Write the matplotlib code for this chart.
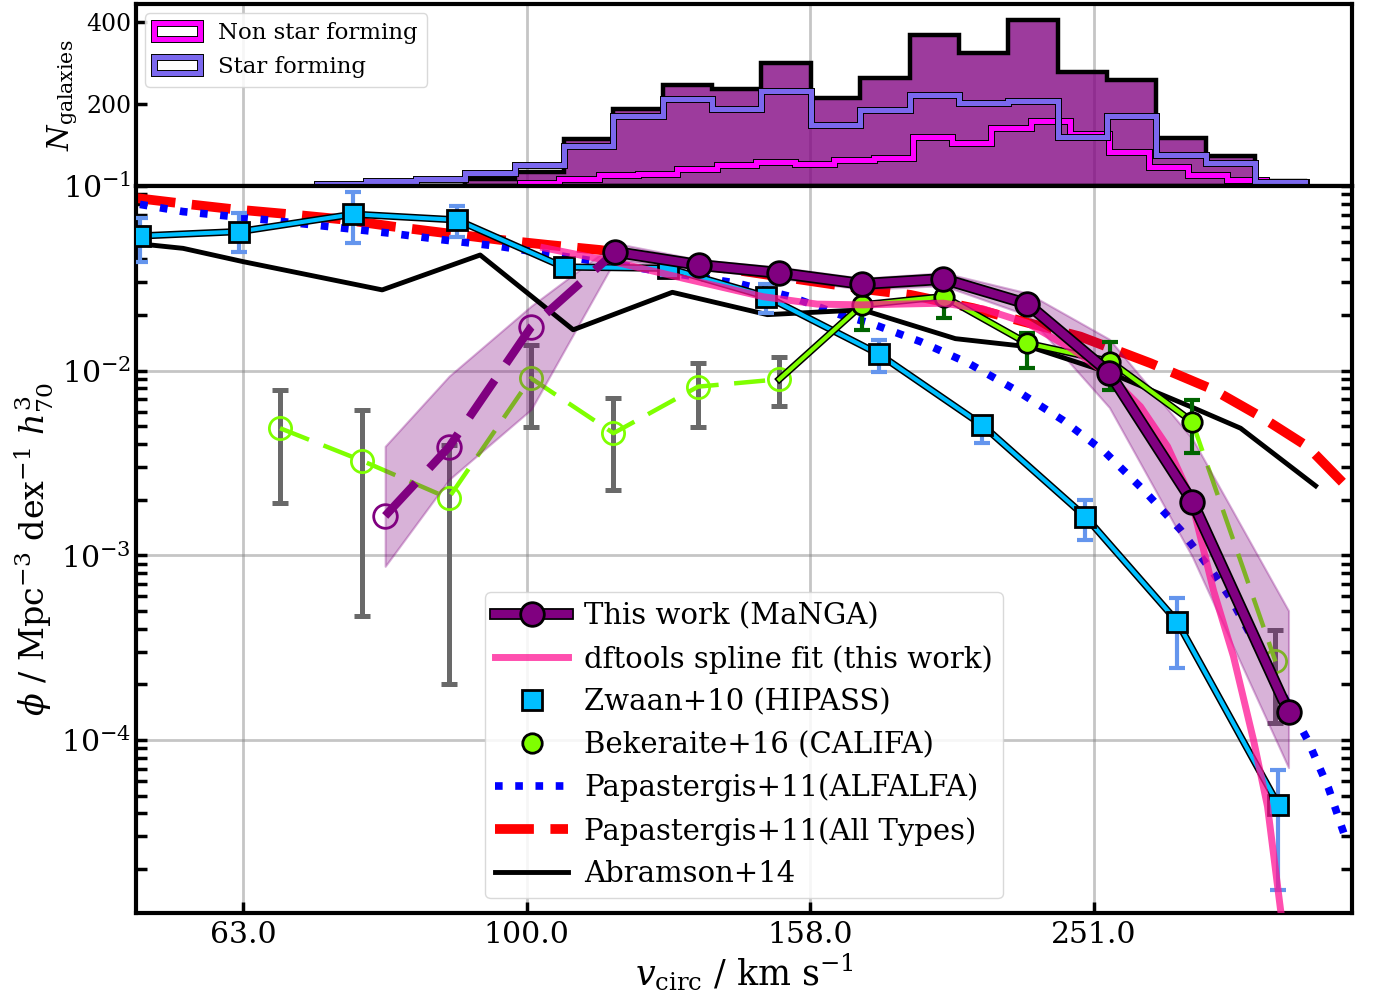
import matplotlib
matplotlib.use("Agg")
import matplotlib.pyplot as plt
import matplotlib.patheffects as pe
from matplotlib.legend_handler import HandlerTuple
import numpy as np

plt.rcParams["font.family"] = "DejaVu Serif"
plt.rcParams["mathtext.fontset"] = "dejavuserif"

# ---------------- top panel: galaxy counts per log10(v) bin ----------------
sf_edges = [1.8522, 1.8870, 1.9218, 1.9566, 1.9915, 2.0263, 2.0611, 2.0959,
            2.1307, 2.1655, 2.2004, 2.2352, 2.2700, 2.3048, 2.3396, 2.3744,
            2.4093, 2.4441, 2.4789, 2.5137, 2.5485]
all_counts = [0, 0, 0, 17, 35, 116, 188, 247, 238, 300, 216, 264, 369, 324,
              407, 278, 260, 118, 74, 12]
sf_counts = [6, 12, 17, 31, 51, 98, 170, 213, 189, 232, 148, 186, 223, 202,
             207, 119, 170, 76, 57, 9]
nsf_edges = [1.9954, 2.0231, 2.0508, 2.0785, 2.1062, 2.1339, 2.1615, 2.1892,
             2.2169, 2.2446, 2.2723, 2.3000, 2.3277, 2.3554, 2.3831, 2.4108,
             2.4385, 2.4662, 2.4938, 2.5215, 2.5492]
nsf_counts = [8, 16, 27, 30, 41, 52, 58, 55, 63, 69, 120, 106, 141, 159, 128,
              84, 47, 27, 15, 10]

# ---------------- bottom panel: velocity functions (log10 v, log10 phi) ----
manga_logv = [1.9002, 1.9453, 2.0032, 2.0624, 2.1217, 2.1781, 2.2367, 2.2938,
              2.3531, 2.4109, 2.4695, 2.5372]
manga_logphi = [-2.787, -2.413, -1.763, -1.357, -1.428, -1.471, -1.531,
                -1.504, -1.639, -2.012, -2.711, -3.848]
manga_hi = [-2.41, -2.03, -1.65, -1.31, -1.40, -1.44, -1.50, -1.47, -1.58,
            -1.83, -2.37, -3.30]
manga_lo = [-3.06, -2.59, -2.21, -1.40, -1.45, -1.50, -1.56, -1.54, -1.70,
            -2.20, -3.01, -4.15]
manga_n_open = 3

spline_logv = [2.012, 2.0610, 2.1104, 2.1668, 2.2049, 2.2367, 2.2938, 2.3220,
               2.3531, 2.3855, 2.4116, 2.4328, 2.4519, 2.4681, 2.4843, 2.4984,
               2.5125, 2.5224, 2.5316, 2.5344]
spline_logphi = [-1.335, -1.41, -1.50, -1.60, -1.64, -1.644, -1.635, -1.666,
                 -1.743, -1.888, -2.032, -2.195, -2.411, -2.682, -3.19, -3.548,
                 -4.0, -4.36, -4.92, -5.05]

zwaan_logv = [1.7273, 1.7974, 1.8778, 1.9508, 2.0260, 2.1000, 2.1690, 2.2482,
              2.3211, 2.3940, 2.4587, 2.5300]
zwaan_logphi = [-1.271, -1.247, -1.153, -1.184, -1.439, -1.446, -1.599,
                -1.910, -2.294, -2.791, -3.359, -4.351]
zwaan_lo = [-1.411, -1.356, -1.310, -1.278, -1.47, -1.48, -1.69, -2.005,
            -2.39, -2.917, -3.61, -4.812]
zwaan_hi = [-1.173, -1.145, -1.031, -1.108, -1.41, -1.42, -1.53, -1.834,
            -2.256, -2.70, -3.231, -4.162]

bek_logv = [1.8261, 1.8842, 1.9449, 2.0030, 2.0612, 2.1208, 2.1781, 2.2365,
            2.2941, 2.3529, 2.4116, 2.4693, 2.5280]
bek_logphi = [-2.312, -2.489, -2.691, -2.041, -2.339, -2.087, -2.047, -1.644,
              -1.599, -1.852, -1.951, -2.276, -3.575]
bek_lo = [-2.718, -3.328, -3.696, -2.307, -2.646, -2.303, -2.191, -1.78,
          -1.715, -1.985, -2.105, -2.447, -3.907]
bek_hi = [-2.105, -2.213, -2.402, -1.861, -2.150, -1.960, -1.924, -1.58,
          -1.563, -1.796, -1.843, -2.159, -3.404]
bek_reliable = [False] * 7 + [True] * 5 + [False]

alfalfa_logv = [1.7273, 1.7577, 1.8169, 1.9037, 1.9411, 1.9813, 2.1485,
                2.1859, 2.2212, 2.2423, 2.2776, 2.3115, 2.3446, 2.3778, 2.4081,
                2.4349, 2.4610, 2.4843, 2.4963, 2.5506, 2.5654, 2.5774]
alfalfa_logphi = [-1.10, -1.139, -1.184, -1.256, -1.292, -1.328, -1.527,
                  -1.599, -1.698, -1.743, -1.843, -1.960, -2.104, -2.267,
                  -2.444, -2.646, -2.862, -3.097, -3.232, -3.999, -4.261,
                  -4.532]

alltypes_logv = [1.725, 1.7556, 1.7929, 1.8310, 1.8684, 1.9058, 1.9340, 1.9813,
                 2.0145, 2.0519, 2.2423, 2.2706, 2.3150, 2.3503, 2.3905, 2.4399,
                 2.4843, 2.5175, 2.5506, 2.5810]
alltypes_logphi = [-1.066, -1.094, -1.126, -1.152, -1.180, -1.220, -1.247,
                   -1.292, -1.319, -1.347, -1.563, -1.590, -1.662, -1.735,
                   -1.816, -1.960, -2.104, -2.249, -2.411, -2.65]

abr_logv = [1.725, 1.7577, 1.8000, 1.8981, 1.9672, 2.0328, 2.1027, 2.1697,
            2.2367, 2.3023, 2.3552, 2.4116, 2.4681, 2.5034, 2.5563]
abr_logphi = [-1.312, -1.338, -1.410, -1.563, -1.374, -1.779, -1.576, -1.697,
              -1.671, -1.827, -1.872, -2.014, -2.195, -2.312, -2.624]

tick_logv = [1.8, 2.0, 2.2, 2.4]
tick_labels = ["63.0", "100.0", "158.0", "251.0"]


def outline(lw):
    return [pe.Stroke(linewidth=lw, foreground="black"), pe.Normal()]


def centres(edges):
    e = np.asarray(edges)
    return 0.5 * (e[1:] + e[:-1])


def asym_err(logphi, lo, hi):
    phi = 10 ** np.asarray(logphi)
    return phi, [phi - 10 ** np.asarray(lo), 10 ** np.asarray(hi) - phi]


fig = plt.figure(figsize=(13.75, 9.98), dpi=100)
ax_h = fig.add_axes([0.0989, 0.8136, 0.8844, 0.1824])
ax = fig.add_axes([0.0989, 0.0852, 0.8844, 0.7285], sharex=ax_h)

# ---- histogram panel ----
ax_h.hist(centres(sf_edges), bins=sf_edges, weights=all_counts,
          histtype="stepfilled", facecolor=(0.5, 0.0, 0.5, 0.77),
          edgecolor="black", lw=3.2, zorder=2)
ax_h.hist(centres(nsf_edges), bins=nsf_edges, weights=nsf_counts,
          histtype="step", color="magenta", lw=3.6,
          path_effects=outline(5.0), label="Non star forming", zorder=3)
ax_h.hist(centres(sf_edges), bins=sf_edges, weights=sf_counts,
          histtype="step", color="mediumslateblue", lw=3.6,
          path_effects=outline(5.0), label="Star forming", zorder=3)
ax_h.set_ylim(0, 445)
ax_h.set_yticks([200, 400])
ax_h.set_ylabel(r"$N_{\rm galaxies}$", fontsize=21, labelpad=4)
ax_h.tick_params(axis="y", direction="in", length=8, width=2.5, labelsize=17)
ax_h.tick_params(axis="x", bottom=False, labelbottom=False)
ax_h.grid(True, axis="x", color="gray", alpha=0.45, lw=2)
ax_h.set_axisbelow(True)
ax_h.legend(loc="upper left", fontsize=16.5, framealpha=0.85,
            edgecolor="lightgray", borderaxespad=0.4)

# ---- velocity function panel ----
ax.plot(alltypes_logv, 10 ** np.asarray(alltypes_logphi), color="red", lw=7,
        dashes=(4, 1.7), zorder=2, label="Papastergis+11(All Types)")
ax.plot(alfalfa_logv, 10 ** np.asarray(alfalfa_logphi), color="blue", lw=5.5,
        ls=":", zorder=2, label="Papastergis+11(ALFALFA)")

# unreliable Bekeraite points (open, dashed, grey errors)
bek_v = np.asarray(bek_logv)
rel = np.asarray(bek_reliable)
phi_b, err_b = asym_err(bek_logphi, bek_lo, bek_hi)
err_b = np.asarray(err_b)
ax.errorbar(bek_v[~rel], phi_b[~rel], yerr=err_b[:, ~rel], fmt="none",
            ecolor="dimgray", elinewidth=3.6, capsize=6, capthick=3.6,
            zorder=2.5)
first_rel = int(np.argmax(rel))
last_rel = len(rel) - 1 - int(np.argmax(rel[::-1]))
ax.plot(bek_v[:first_rel], phi_b[:first_rel], color="chartreuse", lw=3.2,
        dashes=(7, 3.5), zorder=2.5)
ax.plot(bek_v[last_rel:], phi_b[last_rel:], color="chartreuse", lw=3.2,
        dashes=(7, 3.5), zorder=2.5)
ax.plot(bek_v[~rel], phi_b[~rel], ls="none", marker="o", mfc="none",
        mec="chartreuse", ms=16, mew=2, zorder=2.5)

# MaNGA uncertainty band
ax.fill_between(manga_logv, 10 ** np.asarray(manga_lo),
                10 ** np.asarray(manga_hi), facecolor="purple",
                edgecolor="purple", alpha=0.3, lw=1.5, zorder=3)

ax.plot(abr_logv, 10 ** np.asarray(abr_logphi), color="black", lw=3.5,
        zorder=4, label="Abramson+14")

# Zwaan+10
phi_z, err_z = asym_err(zwaan_logphi, zwaan_lo, zwaan_hi)
ax.errorbar(zwaan_logv, phi_z, yerr=err_z, fmt="none",
            ecolor="cornflowerblue", elinewidth=3, capsize=5.5, capthick=3,
            zorder=4.8)
ax.plot(zwaan_logv, phi_z, color="deepskyblue", lw=3,
        path_effects=outline(5.2), zorder=5)
zwaan_pts, = ax.plot(zwaan_logv, phi_z, ls="none", marker="s", ms=15,
                     mfc="deepskyblue", mec="black", mew=2, zorder=5.1,
                     label="Zwaan+10 (HIPASS)")

# reliable Bekeraite points
ax.errorbar(bek_v[rel], phi_b[rel], yerr=err_b[:, rel], fmt="none",
            ecolor="darkgreen", elinewidth=3, capsize=5.5, capthick=3,
            zorder=5.3)
ax.plot(bek_v[first_rel - 1:last_rel + 1], phi_b[first_rel - 1:last_rel + 1],
        color="chartreuse", lw=3, path_effects=outline(5.2), zorder=5.4)
bek_pts, = ax.plot(bek_v[rel], phi_b[rel], ls="none", marker="o", ms=14,
                   mfc="chartreuse", mec="black", mew=2, zorder=5.5,
                   label="Bekeraite+16 (CALIFA)")

# dftools spline
spline_line, = ax.plot(spline_logv, 10 ** np.asarray(spline_logphi),
                       color=(1.0, 0.08, 0.58, 0.75), lw=5, zorder=6,
                       label="dftools spline fit (this work)")

# This work
mv = np.asarray(manga_logv)
mphi = 10 ** np.asarray(manga_logphi)
n = manga_n_open
ax.plot(mv[:n + 1], mphi[:n + 1], color="purple", lw=6, dashes=(5.4, 2.4),
        zorder=7)
ax.plot(mv[:n], mphi[:n], ls="none", marker="o", mfc="none", mec="purple",
        ms=17, mew=2, zorder=7)
manga_line, = ax.plot(mv[n:], mphi[n:], color="purple", lw=6,
                      path_effects=outline(8.5), zorder=7)
manga_pts, = ax.plot(mv[n:], mphi[n:], ls="none", marker="o", ms=17,
                     mfc="purple", mec="black", mew=2, zorder=7.1)

ax.set_yscale("log")
ax.set_ylim(10 ** -4.937, 0.1)
ax.set_xlim(1.7245, 2.582)
ax.set_xticks(tick_logv)
ax.set_xticklabels(tick_labels)
ax.tick_params(axis="x", which="both", direction="in", length=8, width=2.5,
               labelsize=21.5, pad=6)
ax.tick_params(axis="y", which="both", direction="in", length=8, width=2.5,
               labelsize=21.5, left=True, right=True)
ax.grid(True, which="major", color="gray", alpha=0.45, lw=2)
ax.set_axisbelow(True)
ax.set_xlabel(r"$v_{\rm circ}$ / km s$^{-1}$", fontsize=25, labelpad=2)
ax.set_ylabel(r"$\phi$ / Mpc$^{-3}$ dex$^{-1}$ $h^3_{70}$", fontsize=24,
              labelpad=4)

for a in (ax, ax_h):
    for s in a.spines.values():
        s.set_linewidth(3)

alfalfa_line = ax.get_lines()[1]
alltypes_line = ax.get_lines()[0]
abr_line = [l for l in ax.get_lines() if l.get_label() == "Abramson+14"][0]
handles = [(manga_line, manga_pts), spline_line, zwaan_pts, bek_pts,
           alfalfa_line, alltypes_line, abr_line]
labels = ["This work (MaNGA)", "dftools spline fit (this work)",
          "Zwaan+10 (HIPASS)", "Bekeraite+16 (CALIFA)",
          "Papastergis+11(ALFALFA)", "Papastergis+11(All Types)",
          "Abramson+14"]
ax.legend(handles, labels, loc="lower center", fontsize=21, framealpha=0.85,
          edgecolor="lightgray", handlelength=2.5, handletextpad=0.55,
          borderpad=0.35,
          handler_map={tuple: HandlerTuple(ndivide=1)})

fig.savefig("out.png", dpi=100)
